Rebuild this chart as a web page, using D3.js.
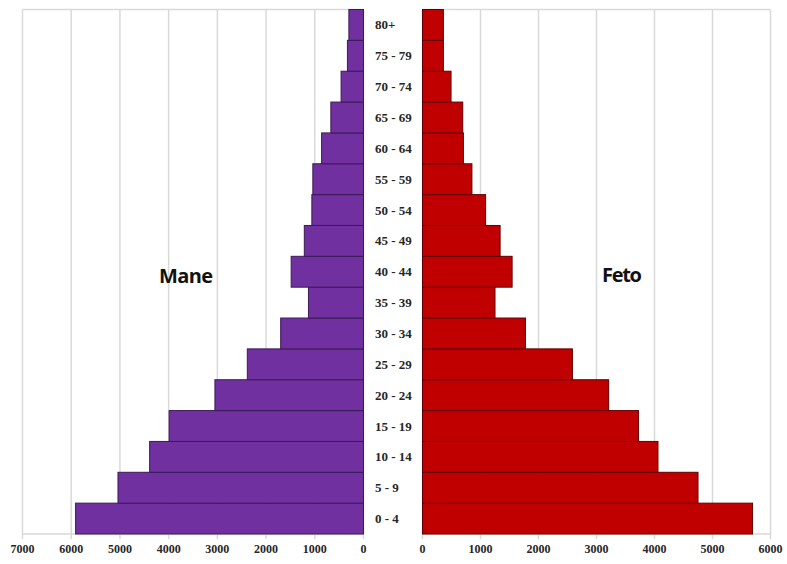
<!DOCTYPE html>
<html>
<head>
<meta charset="utf-8">
<script src="https://cdn.jsdelivr.net/npm/d3@7"></script>
<style>
  body { margin: 0; background: #fff; }
  svg { display: block; }
</style>
</head>
<body>
<div class="pyramid"></div>
<script>
// age groups, youngest first
const ages = ["0 - 4", "5 - 9", "10 - 14", "15 - 19", "20 - 24", "25 - 29", "30 - 34", "35 - 39",
  "40 - 44", "45 - 49", "50 - 54", "55 - 59", "60 - 64", "65 - 69", "70 - 74", "75 - 79", "80+"]
const mane = [5910, 5040, 4390, 3990, 3050, 2385, 1700, 1130, 1485, 1215, 1060, 1040, 860, 670, 460, 330, 300]
const feto = [5690, 4750, 4060, 3725, 3210, 2585, 1775, 1250, 1545, 1338, 1088, 852, 705, 694, 492, 360, 360]
const maneTicks = [0, 1000, 2000, 3000, 4000, 5000, 6000, 7000]
const fetoTicks = [0, 1000, 2000, 3000, 4000, 5000, 6000]

const width = 787
const height = 564
const plotTop = 9.5, plotBottom = 534

const data = ages.map((a, i) => ({age: a, mane: mane[i], feto: feto[i]}))

let xL = d3.scaleLinear().domain([0, 7000]).range([363.5, 22.5])
let xR = d3.scaleLinear().domain([0, 6000]).range([422.5, 770.5])
let y = d3.scaleBand()
  .domain(ages.slice().reverse())
  .range([plotTop, plotBottom])
  .padding(0)

const svg = d3.select(".pyramid").append("svg")
  .attr("width", width)
  .attr("height", height)
  .attr("viewBox", [0, 0, width, height])

// grids + frames
const grid = (g, x, ticks) => g
  .attr("stroke", "#d9d9d9")
  .attr("stroke-width", 1.5)
  .call(g => g.selectAll("line.v")
    .data(ticks)
    .join("line")
      .attr("class", "v")
      .attr("x1", d => x(d))
      .attr("x2", d => x(d))
      .attr("y1", plotTop)
      .attr("y2", plotBottom + 5))
  .call(g => g.append("line")
      .attr("x1", x.range()[0]).attr("x2", x.range()[1])
      .attr("y1", plotTop).attr("y2", plotTop))
  .call(g => g.append("line")
      .attr("x1", x.range()[0]).attr("x2", x.range()[1])
      .attr("y1", plotBottom).attr("y2", plotBottom))

svg.append("g").call(grid, xL, maneTicks)
svg.append("g").call(grid, xR, fetoTicks)

// bars
svg.append("g")
    .attr("fill", "#7030a0")
    .attr("stroke", "#3b1a55")
    .attr("stroke-width", 1)
  .selectAll("rect")
  .data(data)
  .join("rect")
    .attr("x", d => xL(d.mane))
    .attr("y", d => y(d.age))
    .attr("width", d => xL(0) - xL(d.mane))
    .attr("height", y.bandwidth())

svg.append("g")
    .attr("fill", "#c00000")
    .attr("stroke", "#600000")
    .attr("stroke-width", 1)
  .selectAll("rect")
  .data(data)
  .join("rect")
    .attr("x", xR(0))
    .attr("y", d => y(d.age))
    .attr("width", d => xR(d.feto) - xR(0))
    .attr("height", y.bandwidth())

// age labels
svg.append("g")
    .attr("font-family", "'Liberation Serif', 'Times New Roman', serif")
    .attr("font-weight", "bold")
    .attr("font-size", 13)
    .attr("fill", "#262626")
    .attr("text-anchor", "start")
  .selectAll("text")
  .data(ages)
  .join("text")
    .attr("x", 375)
    .attr("y", d => y(d) + y.bandwidth() / 2)
    .attr("dy", "0.35em")
    .text(d => d)

// bottom tick labels
const tickLabels = (g, x, ticks) => g
  .attr("font-family", "'Liberation Serif', 'Times New Roman', serif")
  .attr("font-weight", "bold")
  .attr("font-size", 12)
  .attr("fill", "#262626")
  .attr("text-anchor", "middle")
  .selectAll("text")
  .data(ticks)
  .join("text")
    .attr("x", d => x(d))
    .attr("y", 553)
    .text(d => d)

svg.append("g").call(tickLabels, xL, maneTicks)
svg.append("g").call(tickLabels, xR, fetoTicks)

// series names
svg.append("text")
    .attr("x", 186)
    .attr("y", 283)
    .attr("text-anchor", "middle")
    .attr("font-family", "'Open Sans', sans-serif")
    .attr("font-weight", "bold")
    .attr("font-size", 20)
    .attr("fill", "#111")
    .attr("textLength", 54)
    .text("Mane")

svg.append("text")
    .attr("x", 622)
    .attr("y", 282)
    .attr("text-anchor", "middle")
    .attr("font-family", "'Open Sans', sans-serif")
    .attr("font-weight", "bold")
    .attr("font-size", 20)
    .attr("fill", "#111")
    .attr("textLength", 40)
    .text("Feto")

svg.node()
</script>
</body>
</html>
